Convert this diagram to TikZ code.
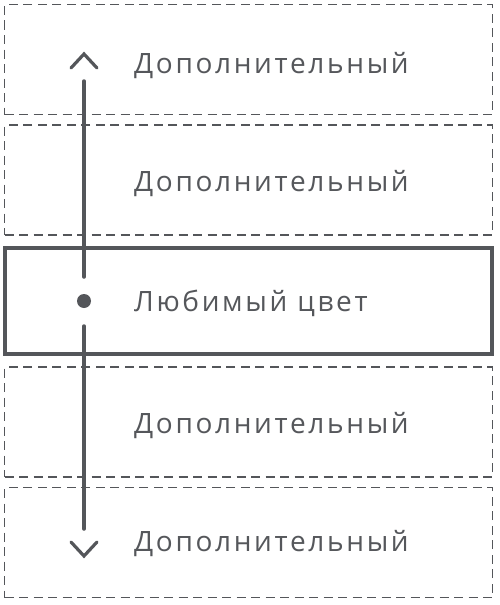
\documentclass[tikz,border=0pt]{standalone}
\usepackage{fontspec}
\setmainfont{Open Sans}
\newfontfamily\widefont[LetterSpace=9.5]{Open Sans}
\definecolor{linegray}{HTML}{54565A}
\definecolor{textgray}{HTML}{55575B}
\begin{document}
\begin{tikzpicture}[x=1pt,y=-1pt,
  dashbox/.style={draw=linegray, line width=1.9pt, dash pattern=on 9pt off 5.5pt, minimum width=488pt, minimum height=110pt, inner sep=0pt},
  solidbox/.style={draw=linegray, line width=3.2pt, minimum width=487pt, minimum height=106pt, inner sep=0pt},
  label/.style={anchor=base west, text=textgray, font=\widefont\fontsize{28}{32}\selectfont, inner sep=0pt},
  stem/.style={draw=linegray, line width=3.5pt, line cap=round},
  chev/.style={draw=linegray, line width=3.2pt, line cap=round, line join=miter}]
\useasboundingbox (0,0) rectangle (500,605);
\node[dashbox] (b1) at (248.5,59.5) {};
\node[dashbox] (b2) at (248.5,180) {};
\node[solidbox] (b3) at (248.5,301) {};
\node[dashbox] (b4) at (248.5,422) {};
\node[dashbox] (b5) at (248.5,542.5) {};
\node[label] (t1) at (134,73) {Дополнительный};
\node[label] (t2) at (134,191.5) {Дополнительный};
\node[label] (t3) at (134,311) {Любимый цвет};
\node[label] (t4) at (134,433) {Дополнительный};
\node[label] (t5) at (134,551) {Дополнительный};
\coordinate (up1) at (84,81);
\coordinate (up2) at (84,277);
\coordinate (dn1) at (84,326);
\coordinate (dn2) at (84,529);
\coordinate (ua) at (84,54);
\coordinate (ul) at (71,68);
\coordinate (ur) at (97,68);
\coordinate (da) at (84,556);
\coordinate (dl) at (71,542);
\coordinate (dr) at (97,542);
\node[circle, fill=linegray, minimum size=14pt, inner sep=0pt] (dot) at (84,301) {};
\draw[stem] (up1) -- (up2);
\draw[stem] (dn1) -- (dn2);
\draw[chev] (ul) -- (ua) -- (ur);
\draw[chev] (dl) -- (da) -- (dr);
\end{tikzpicture}
\end{document}
